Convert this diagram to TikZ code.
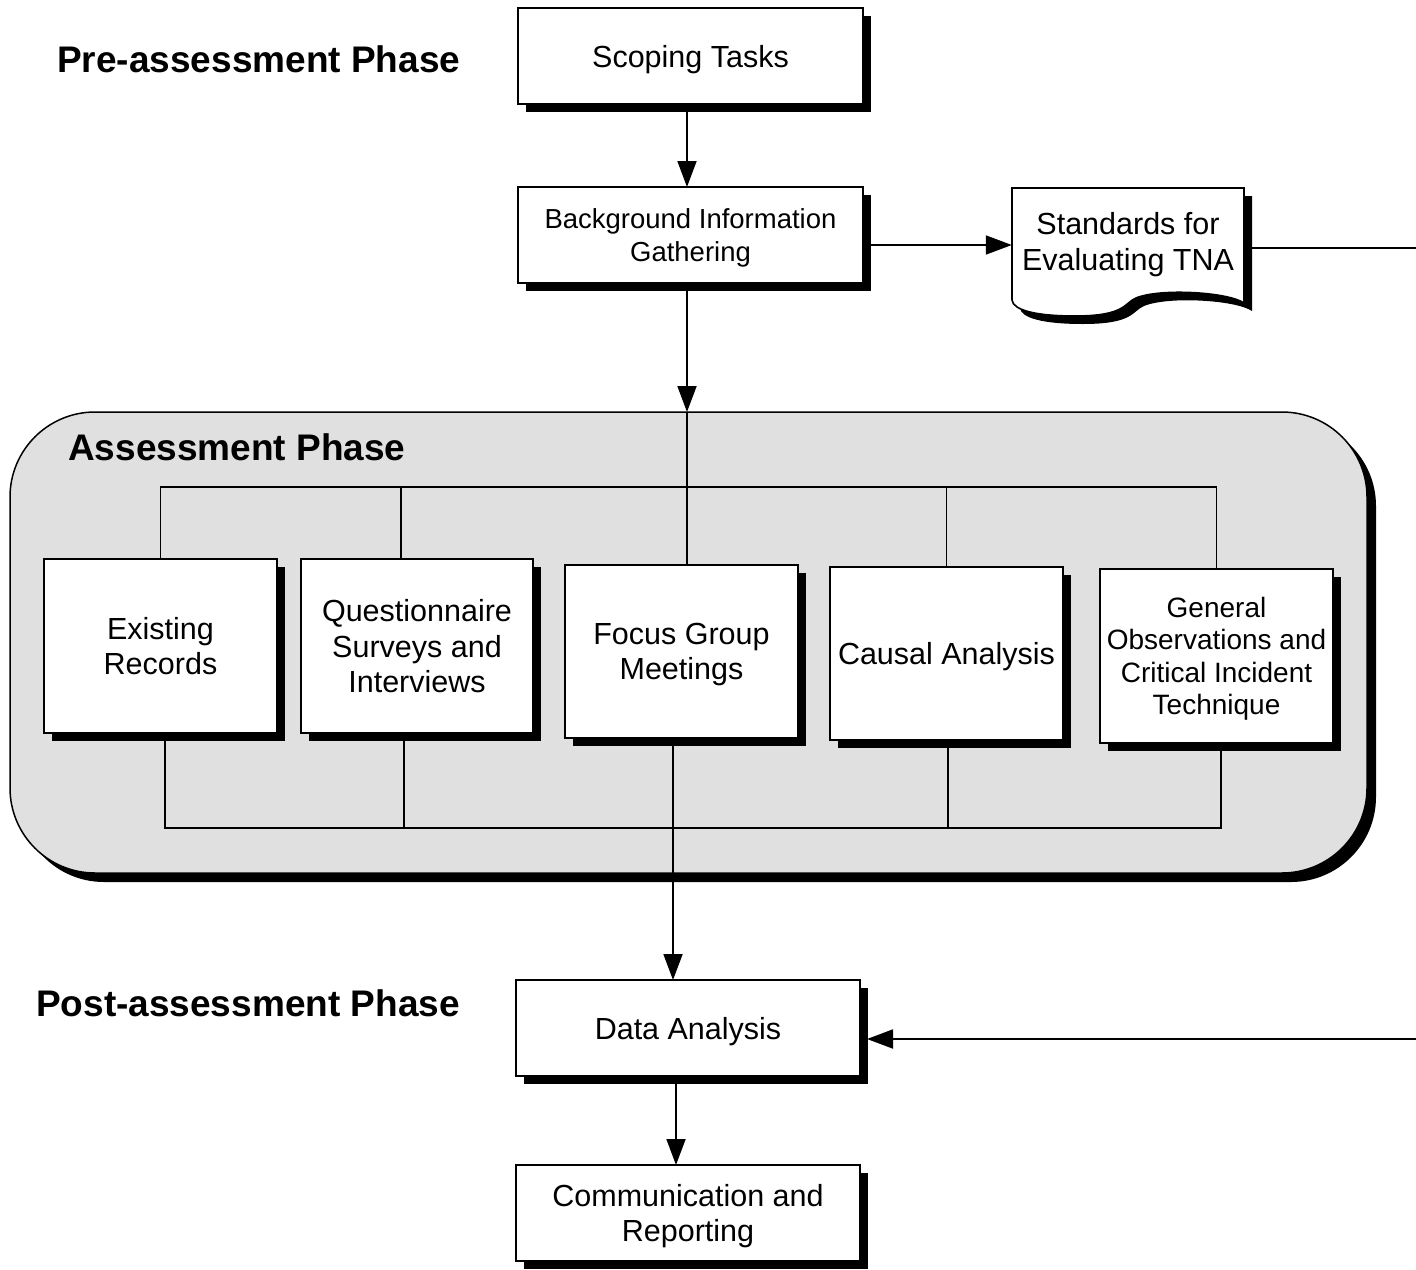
\documentclass[tikz,border=0pt]{standalone}
\usepackage{fontspec}
\setmainfont{Liberation Sans}
\usetikzlibrary{arrows.meta,shadows}
\definecolor{phasegray}{RGB}{224,224,224}
\begin{document}
\begin{tikzpicture}[x=1pt,y=-1pt,
  txt/.style={font=\fontsize{30.5}{35.5}\selectfont, text depth=0pt},
  hardshadow/.style={general shadow={fill=black, shadow xshift=8pt, shadow yshift=-8pt}},
  stepbox/.style={draw, line width=1.6pt, fill=white, hardshadow, inner sep=0pt, outer sep=0pt, align=center, txt},
  phasebox/.style={draw, line width=1.5pt, fill=phasegray, rounded corners=85pt, inner sep=0pt, outer sep=0pt,
    general shadow={fill=black, shadow xshift=9pt, shadow yshift=-9pt}},
  heading/.style={font=\fontsize{37}{42}\selectfont\bfseries, inner sep=0pt, anchor=base west},
  arr/.style={line width=1.8pt, -{Triangle[length=26pt,width=19pt]}},
  link/.style={line width=1.8pt},
  bus/.style={line width=1.4pt}]
\useasboundingbox (0,0) rectangle (1416,1269);

% phase headings
\node[heading] (pre) at (57,72) {Pre-assessment Phase};
\node[heading] (post) at (36,1016) {Post-assessment Phase};

% assessment phase panel
\node[phasebox, minimum width=1357pt, minimum height=461pt] (phase) at (688.5,642.5) {};
\node[heading] (asm) at (68,460) {Assessment Phase};

% pre-assessment steps
\node[stepbox, minimum width=345pt, minimum height=96pt] (scope) at (690.5,56) {Scoping Tasks};
\node[stepbox, minimum width=345pt, minimum height=96pt,
  font=\fontsize{27.5}{32.5}\selectfont] (bgi) at (690.5,235) {Background Information\\Gathering};

% standards document
\fill[black, shift={(8,8)}] (1012,188) -- (1244,188) -- (1244,303)
  .. controls (1228,292) and (1160,288) .. (1136,298)
  .. controls (1124,303) and (1126,316) .. (1075,316)
  .. controls (1035,316) and (1013,310) .. (1012,300) -- cycle;
\draw[line width=1.6pt, fill=white] (1012,188) -- (1244,188) -- (1244,303)
  .. controls (1228,292) and (1160,288) .. (1136,298)
  .. controls (1124,303) and (1126,316) .. (1075,316)
  .. controls (1035,316) and (1013,310) .. (1012,300) -- cycle;
\node[txt, font=\fontsize{30.5}{36}\selectfont, align=center, inner sep=0pt, minimum width=232pt, minimum height=100pt] (std) at (1128,241)
  {Standards for\\Evaluating TNA};

% assessment methods
\node[stepbox, minimum width=233pt, minimum height=174pt] (exist) at (160.5,646) {Existing\\Records};
\node[stepbox, minimum width=232pt, minimum height=174pt] (quest) at (417,646) {Questionnaire\\Surveys and\\Interviews};
\node[stepbox, minimum width=233pt, minimum height=173pt] (focus) at (681.5,651.5) {Focus Group\\Meetings};
\node[stepbox, minimum width=233pt, minimum height=173pt] (causal) at (946.5,653.5) {Causal Analysis};
\node[stepbox, minimum width=233pt, minimum height=174pt,
  font=\fontsize{28}{32.5}\selectfont] (general) at (1216.5,656) {General\\Observations and\\Critical Incident\\Technique};

% post-assessment steps
\node[stepbox, minimum width=344pt, minimum height=96pt] (data) at (688,1028) {Data Analysis};
\node[stepbox, minimum width=344pt, minimum height=96pt] (comm) at (688,1213) {Communication and\\Reporting};

% free ends at the right margin
\coordinate (outR) at (1416,248);
\coordinate (inR) at (1416,1039);

% main flow
\draw[arr] ([xshift=-3.5pt]scope.south) -- ([xshift=-3.5pt]bgi.north);
\draw[arr] ([yshift=-10pt]bgi.east) -- ([yshift=-10pt]bgi.east -| std.west);
\draw[link] (std.east |- outR) -- (outR);
\draw[arr] ([xshift=-3.5pt]bgi.south) -- ([xshift=-3.5pt]bgi.south |- phase.north);
\draw[link] ([xshift=-3.5pt]bgi.south |- phase.north) -- ([xshift=-3.5pt]bgi.south |- focus.north);

% top distribution bus
\draw[bus] (exist.north) -- (exist.north |- 0,487) -- (general.north |- 0,487) -- (general.north);
\draw[bus] ([xshift=-16pt]quest.north) -- ([xshift=-16pt]quest.north |- 0,487);
\draw[bus] (causal.north) -- (causal.north |- 0,487);
\draw[bus] ([xshift=-3.5pt]bgi.south |- 0,487) -- ([xshift=-3.5pt]bgi.south |- focus.north);

% bottom collection bus
\draw[bus] ([xshift=4.5pt]exist.south) -- ([xshift=4.5pt]exist.south |- 0,828) -- ([xshift=4.5pt]general.south |- 0,828) -- ([xshift=4.5pt]general.south);
\draw[bus] ([xshift=-13pt]quest.south) -- ([xshift=-13pt]quest.south |- 0,828);
\draw[bus] ([xshift=1.5pt]causal.south) -- ([xshift=1.5pt]causal.south |- 0,828);

% into post-assessment
\draw[arr] ([xshift=-8.5pt]focus.south) -- ([xshift=-8.5pt]focus.south |- data.north);
\draw[arr] (inR) -- ([xshift=7pt]data.east |- inR);
\draw[arr] ([xshift=-12pt]data.south) -- ([xshift=-12pt]data.south |- comm.north);
\end{tikzpicture}
\end{document}
